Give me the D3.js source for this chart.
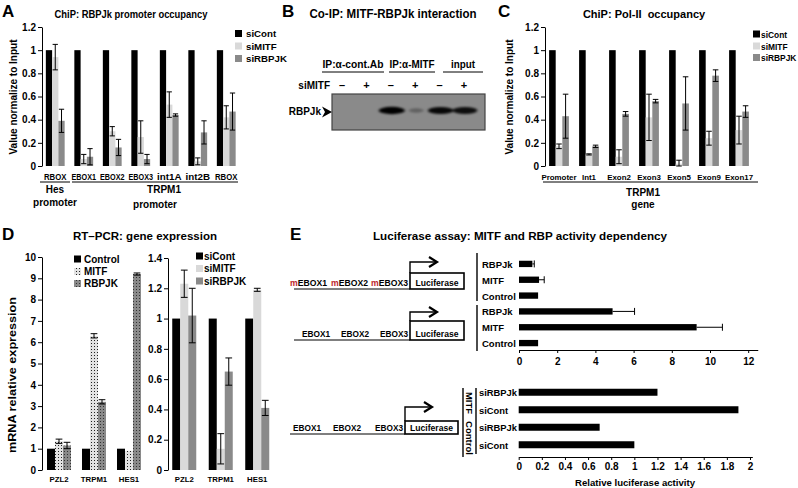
<!DOCTYPE html>
<html><head><meta charset="utf-8">
<script src="https://cdn.jsdelivr.net/npm/d3@7"></script>
<style>
body{margin:0;background:#fff;}
svg{display:block;font-family:"Liberation Sans",Arial,Helvetica,sans-serif;}
</style></head><body>
<svg id="c" width="798" height="488"></svg>
<script>
// ---------------- DATA ----------------
// Panel A: ChIP RBPJk promoter occupancy
const catsA = ["RBOX","EBOX1","EBOX2","EBOX3","int1A","int2B","RBOX"];
const seriesA = ["siCont","siMITF","siRBPJK"];
const aSiCont = [1,1,1,1,1,1,1];
const aSiMITF = [0.94,0.06,0.30,0.25,0.53,0.04,0.42];
const aSiMITFErr = [0.11,0.04,0.04,0.14,0.11,0.03,0.10];
const aSiRBPJK = [0.39,0.08,0.16,0.06,0.44,0.29,0.47];
const aSiRBPJKErr = [0.10,0.07,0.07,0.04,0.01,0.10,0.16];
const ticksA = [0,0.2,0.4,0.6,0.8,1,1.2];

// Panel B: Co-IP blot
const blotGroups = ["IP:\u03b1-cont.Ab","IP:\u03b1-MITF","input"];
const blotLanes = ["\u2013","+","\u2013","+","\u2013","+"];
const blotIntensity = [0,0,1.0,0.3,0.95,0.9];

// Panel C: ChIP Pol-II occupancy
const catsC = ["Promoter","Int1","Exon2","Exon3","Exon5","Exon9","Exon17"];
const seriesC = ["siCont","siMITF","siRBPJK"];
const cSiCont = [1,1,1,1,1,1,1];
const cSiMITF = [0.17,0.10,0.08,0.42,0.02,0.24,0.31];
const cSiMITFErr = [0.02,0.005,0.06,0.20,0.03,0.06,0.12];
const cSiRBPJK = [0.43,0.17,0.45,0.56,0.54,0.78,0.47];
const cSiRBPJKErr = [0.19,0.01,0.02,0.015,0.23,0.05,0.05];
const ticksC = [0,0.2,0.4,0.6,0.8,1,1.2];

// Panel D: RT-PCR
const catsD = ["PZL2","TRPM1","HES1"];
const seriesD1 = ["Control","MITF","RBPJK"];
const d1Control = [1,1,1];
const d1MITF = [1.35,6.3,0.9];
const d1MITFErr = [0.1,0.1,0];
const d1RBPJK = [1.15,3.2,9.2];
const d1RBPJKErr = [0.15,0.1,0.05];
const ticksD1 = [0,1,2,3,4,5,6,7,8,9,10];
const seriesD2 = ["siCont","siMITF","siRBPJK"];
const d2SiCont = [1,1,1];
const d2SiMITF = [1.23,0.14,1.19];
const d2SiMITFErr = [0.09,0.10,0.01];
const d2SiRBPJK = [1.02,0.65,0.41];
const d2SiRBPJKErr = [0.18,0.09,0.05];
const ticksD2 = [0,0.2,0.4,0.6,0.8,1,1.2,1.4];

// Panel E: Luciferase
const constructTop = ["EBOX1","EBOX2","EBOX3"];
const catsE1 = ["RBPJk","MITF","Control","RBPJk","MITF","Control"];
const e1Vals = [0.7,1.05,1.0,4.9,9.3,1.0];
const e1Err = [0.1,0.27,0,1.15,1.35,0];
const ticksE1 = [0,2,4,6,8,10,12];
const catsE2 = ["siRBPJk","siCont","siRBPJk","siCont"];
const groupsE2 = ["MITF","Control"];
const e2Vals = [1.2,1.9,0.7,1.0];
const ticksE2 = [0,0.2,0.4,0.6,0.8,1,1.2,1.4,1.6,1.8,2];

// ---------------- HELPERS ----------------
const svg = d3.select("#c");
const BLACK="#000", LIGHT="#d9d9d9", DARK="#8a8a8a";
const defs = svg.append("defs");
const pL = defs.append("pattern").attr("id","dotLight").attr("width",3).attr("height",3).attr("patternUnits","userSpaceOnUse");
pL.append("rect").attr("width",3).attr("height",3).attr("fill","#e2e2e2");
pL.append("rect").attr("x",1).attr("y",1).attr("width",1).attr("height",1).attr("fill","#222");
const pD = defs.append("pattern").attr("id","dotDark").attr("width",3).attr("height",3).attr("patternUnits","userSpaceOnUse");
pD.append("rect").attr("width",3).attr("height",3).attr("fill","#8a8a8a");
pD.append("rect").attr("x",1).attr("y",1).attr("width",1).attr("height",1).attr("fill","#333");
const blur = defs.append("filter").attr("id","blur").attr("x","-50%").attr("y","-150%").attr("width","200%").attr("height","400%");
blur.append("feGaussianBlur").attr("stdDeviation","1.6 1.1");

function txt(g,x,y,s,o={}){
  const t=g.append("text").attr("x",x).attr("y",y).text(s)
    .attr("font-size",o.size||10).attr("font-weight",o.weight||"bold")
    .attr("text-anchor",o.anchor||"start").attr("fill",o.fill||"#000");
  if(o.w) t.attr("textLength",o.w).attr("lengthAdjust","spacingAndGlyphs");
  if(o.rotate!==undefined) t.attr("transform",`rotate(${o.rotate},${x},${y})`);
  return t;
}
function line(g,x1,y1,x2,y2,w=1,c="#000"){
  return g.append("line").attr("x1",x1).attr("y1",y1).attr("x2",x2).attr("y2",y2).attr("stroke",c).attr("stroke-width",w);
}
function yAxis(g,x,y,ticks){
  const a=g.append("g").attr("transform",`translate(${x},0)`)
    .call(d3.axisLeft(y).tickValues(ticks).tickSize(4).tickSizeOuter(0).tickPadding(2).tickFormat(d=>String(d)));
  a.attr("font-family",null).attr("font-size",null);
  a.selectAll("text").attr("font-size",10).attr("font-weight","bold");
  return a;
}
function groupedBars(g,cfg){
  const x0=d3.scaleBand().domain(d3.range(cfg.n)).range(cfg.xRange).paddingInner(cfg.pi).paddingOuter(cfg.pi/2);
  const x1=d3.scaleBand().domain(d3.range(cfg.series.length)).range([0,x0.bandwidth()]);
  cfg.series.forEach((s,si)=>{
    g.append("g").selectAll("rect").data(s.vals).join("rect")
      .attr("x",(d,i)=>x0(i)+x1(si)).attr("width",x1.bandwidth())
      .attr("y",d=>cfg.y(d)).attr("height",d=>cfg.y(0)-cfg.y(d)).attr("fill",s.fill);
  });
  cfg.series.forEach((s,si)=>{
    if(!s.errs) return;
    const cw=x1.bandwidth()*0.42;
    const eg=g.append("g").attr("stroke","#000").attr("stroke-width",1);
    const data=s.vals.map((v,i)=>({i,lo:Math.max(0,v-s.errs[i]),hi:v+s.errs[i],e:s.errs[i]})).filter(d=>d.e>0);
    const cx=d=>x0(d.i)+x1(si)+x1.bandwidth()/2;
    eg.selectAll(".v").data(data).join("line").attr("x1",cx).attr("x2",cx).attr("y1",d=>cfg.y(d.lo)).attr("y2",d=>cfg.y(d.hi));
    eg.selectAll(".t").data(data).join("line").attr("x1",d=>cx(d)-cw).attr("x2",d=>cx(d)+cw).attr("y1",d=>cfg.y(d.hi)).attr("y2",d=>cfg.y(d.hi));
    eg.selectAll(".b").data(data).join("line").attr("x1",d=>cx(d)-cw).attr("x2",d=>cx(d)+cw).attr("y1",d=>cfg.y(d.lo)).attr("y2",d=>cfg.y(d.lo));
  });
  return x0;
}
function legend(g,x,ys,names,fills,o={}){
  names.forEach((n,i)=>{
    g.append("rect").attr("x",x).attr("y",ys[i]-3.5).attr("width",o.sq||7).attr("height",o.sq||7).attr("fill",fills[i]);
    txt(g,x+(o.gap||11),ys[i]+3.5,n,{size:o.size||10,w:o.ws?o.ws[i]:undefined});
  });
}

// ---------------- PANEL A ----------------
const gA=svg.append("g");
txt(gA,2,17,"A",{size:17});
txt(gA,131,18,"ChiP: RBPJk promoter occupancy",{size:11,anchor:"middle",w:153});
const yA=d3.scaleLinear().domain([0,1.2]).range([166,27]);
yAxis(gA,42,yA,ticksA);
txt(gA,16.5,97,"Value normalize to Input",{size:10,anchor:"middle",rotate:-90});
const xA=groupedBars(gA,{n:catsA.length,xRange:[41,240.5],pi:0.34,y:yA,series:[
  {vals:aSiCont,fill:BLACK},{vals:aSiMITF,errs:aSiMITFErr,fill:LIGHT},{vals:aSiRBPJK,errs:aSiRBPJKErr,fill:DARK}]});
catsA.forEach((c,i)=>txt(gA,xA(i)+xA.bandwidth()/2,179.5,c,{size:8.6,anchor:"middle",w:c.length===4?22.5:24.5}));
line(gA,40,182,70,182); line(gA,72,182,238,182);
txt(gA,55,193,"Hes",{size:10,anchor:"middle"});
txt(gA,55,206,"promoter",{size:10,anchor:"middle"});
txt(gA,164,193,"TRPM1",{size:10,anchor:"middle"});
txt(gA,155,208,"promoter",{size:10,anchor:"middle"});
legend(gA,235,[33.5,46,58.5],seriesA,[BLACK,LIGHT,DARK],{size:9.7});

// ---------------- PANEL B ----------------
const gB=svg.append("g");
txt(gB,282,17,"B",{size:17});
txt(gB,393,18,"Co-IP: MITF-RBPJk interaction",{size:12.5,anchor:"middle",w:167});
const xL=d3.scalePoint().domain(d3.range(blotLanes.length)).range([342,464]);
const grpX=[[322,384],[389,435],[443,483]];
blotGroups.forEach((gname,i)=>{
  txt(gB,(grpX[i][0]+grpX[i][1])/2,68,gname,{size:10,anchor:"middle",w:grpX[i][1]-grpX[i][0]-(i==2?16:1)});
  line(gB,grpX[i][0],72,grpX[i][1],72);
});
txt(gB,330,89,"siMITF",{size:10,anchor:"end"});
blotLanes.forEach((s,i)=>txt(gB,xL(i),89,s,{size:11,anchor:"middle"}));
gB.append("rect").attr("x",332).attr("y",94).attr("width",153).attr("height",36).attr("fill","#8a8a8a").attr("stroke","#444").attr("stroke-width",1.2);
const bw=d3.scaleLinear().domain([0,1]).range([10,26]);
gB.append("g").attr("filter","url(#blur)").selectAll("ellipse").data(blotIntensity).join("ellipse")
  .attr("cx",(d,i)=>xL(i)+1).attr("cy",110.5).attr("rx",d=>bw(d)/2).attr("ry",d=>1.5+2.2*d)
  .attr("fill","#050505").attr("opacity",d=>d);
txt(gB,321,115,"RBPJk",{size:10,anchor:"end"});
gB.append("path").attr("d","M322,106.5 L332,112 L322,117.5 L325,112 Z").attr("fill","#000");

// ---------------- PANEL C ----------------
const gC=svg.append("g");
txt(gC,498,17,"C",{size:17});
txt(gC,644,18,"ChiP: Pol-II  occupancy",{size:11,anchor:"middle"}).style("white-space","pre");
const yC=d3.scaleLinear().domain([0,1.2]).range([166,27]);
yAxis(gC,545,yC,ticksC);
txt(gC,513,97,"Value normalize to Input",{size:10,anchor:"middle",rotate:-90});
const xC=groupedBars(gC,{n:catsC.length,xRange:[544,754],pi:0.34,y:yC,series:[
  {vals:cSiCont,fill:BLACK},{vals:cSiMITF,errs:cSiMITFErr,fill:LIGHT},{vals:cSiRBPJK,errs:cSiRBPJKErr,fill:DARK}]});
catsC.forEach((c,i)=>txt(gC,xC(i)+xC.bandwidth()/2,179.5,c,{size:7.9,anchor:"middle"}));
line(gC,543,182,758,182);
txt(gC,643,196,"TRPM1",{size:10,anchor:"middle"});
txt(gC,643,208,"gene",{size:10,anchor:"middle"});
legend(gC,753,[34,46,57.5],seriesC,[BLACK,LIGHT,DARK],{size:8.4,gap:8});

// ---------------- PANEL D ----------------
const gD=svg.append("g");
txt(gD,2,240,"D",{size:17});
txt(gD,145,240,"RT\u2013PCR: gene expression",{size:11.8,anchor:"middle",w:144});
const yD1=d3.scaleLinear().domain([0,10]).range([470,257]);
yAxis(gD,42,yD1,ticksD1);
txt(gD,16,375,"mRNA relative expression",{size:10.5,anchor:"middle",rotate:-90,w:156});
const xD1=groupedBars(gD,{n:catsD.length,xRange:[41.5,146.5],pi:0.314,y:yD1,series:[
  {vals:d1Control,fill:BLACK},{vals:d1MITF,errs:d1MITFErr,fill:"url(#dotLight)"},{vals:d1RBPJK,errs:d1RBPJKErr,fill:"url(#dotDark)"}]});
catsD.forEach((c,i)=>txt(gD,xD1(i)+xD1.bandwidth()/2,482,c,{size:7.8,anchor:"middle"}));
legend(gD,74,[259,271.5,283.5],seriesD1,[BLACK,"url(#dotLight)","url(#dotDark)"],{gap:10});

const yD2=d3.scaleLinear().domain([0,1.4]).range([470,258]);
yAxis(gD,168,yD2,ticksD2);
const xD2=groupedBars(gD,{n:catsD.length,xRange:[166,275.5],pi:0.342,y:yD2,series:[
  {vals:d2SiCont,fill:BLACK},{vals:d2SiMITF,errs:d2SiMITFErr,fill:LIGHT},{vals:d2SiRBPJK,errs:d2SiRBPJKErr,fill:DARK}]});
catsD.forEach((c,i)=>txt(gD,xD2(i)+xD2.bandwidth()/2,482,c,{size:7.8,anchor:"middle"}));
legend(gD,196,[256,268.5,281],seriesD2,[BLACK,LIGHT,DARK],{gap:8});

// ---------------- PANEL E ----------------
const gE=svg.append("g");
txt(gE,290,240,"E",{size:17});
txt(gE,520,240,"Luciferase assay: MITF and RBP activity dependency",{size:11.6,anchor:"middle",w:294});

function construct(g,o){
  line(g,o.lineX0,o.base,o.boxX0,o.base,1.2);
  g.append("rect").attr("x",o.boxX0).attr("y",o.boxTop).attr("width",o.boxX1-o.boxX0).attr("height",o.base-o.boxTop)
    .attr("fill","none").attr("stroke","#000").attr("stroke-width",1.6);
  txt(g,(o.boxX0+o.boxX1)/2,o.textY,"Luciferase",{size:9,anchor:"middle",w:43});
  constructTop.forEach((s,i)=>{
    const t=txt(g,o.xs[i],o.textY,"",{size:o.mut?9.2:9,w:o.mut?37:28});
    if(o.mut) t.append("tspan").attr("fill","#c0282d").text("m");
    t.append("tspan").text(s);
  });
  g.append("path").attr("d",`M${o.boxX0},${o.boxTop} V${o.arrY} H${o.arrX-2}`).attr("fill","none").attr("stroke","#000").attr("stroke-width",1.4);
  g.append("path").attr("d",`M${o.arrX-8},${o.arrY-5} L${o.arrX},${o.arrY} L${o.arrX-8},${o.arrY+5}`).attr("fill","none").attr("stroke","#000").attr("stroke-width",2.2);
}
construct(gE,{mut:true,xs:[290,331,371],textY:285.5,lineX0:294,base:289,boxX0:410,boxX1:464,boxTop:273,arrY:262,arrX:437});
construct(gE,{mut:false,xs:[302,341,380],textY:336.5,lineX0:294,base:340,boxX0:410,boxX1:464,boxTop:321,arrY:312,arrX:437});
construct(gE,{mut:false,xs:[293,333,375],textY:431,lineX0:290,base:434,boxX0:405,boxX1:458,boxTop:421,arrY:407,arrX:432});

// top chart
const xE1=d3.scaleLinear().domain([0,12.5]).range([519,757.75]);
const yE1=d3.scaleBand().domain(d3.range(catsE1.length)).range([256,351]).paddingInner(0.6).paddingOuter(0.3);
gE.append("g").selectAll("rect").data(e1Vals).join("rect")
  .attr("x",xE1(0)).attr("y",(d,i)=>yE1(i)).attr("height",yE1.bandwidth()).attr("width",d=>xE1(d)-xE1(0)).attr("fill","#000");
e1Vals.forEach((v,i)=>{ if(!e1Err[i]) return; const cy=yE1(i)+yE1.bandwidth()/2;
  line(gE,xE1(v),cy,xE1(v+e1Err[i]),cy,1); line(gE,xE1(v+e1Err[i]),cy-3.5,xE1(v+e1Err[i]),cy+3.5,1);});
catsE1.forEach((c,i)=>txt(gE,482,yE1(i)+yE1.bandwidth()/2+4,c,{size:9.5}));
line(gE,477,253,477,301,1.4); line(gE,477,305,477,351,1.4);
const axE1=gE.append("g").attr("transform","translate(0,350)").call(d3.axisBottom(xE1).tickValues(ticksE1).tickSize(3).tickSizeOuter(0).tickPadding(5).tickFormat(d=>String(d)));
axE1.attr("font-family",null).attr("font-size",null);
axE1.selectAll("text").attr("font-size",10).attr("font-weight","bold");
axE1.select(".domain").attr("stroke-width",1.2);

// bottom chart
const xE2=d3.scaleLinear().domain([0,2.02]).range([518.7,752.3]);
const yE2=d3.scaleBand().domain(d3.range(catsE2.length)).range([383.5,453.5]).paddingInner(0.6).paddingOuter(0.3);
gE.append("g").selectAll("rect").data(e2Vals).join("rect")
  .attr("x",xE2(0)).attr("y",(d,i)=>yE2(i)).attr("height",yE2.bandwidth()).attr("width",d=>xE2(d)-xE2(0)).attr("fill","#000");
catsE2.forEach((c,i)=>txt(gE,479,yE2(i)+yE2.bandwidth()/2+4,c,{size:9.4}));
line(gE,476,388,476,454,1.4);
line(gE,463,388,463,457,1.4);
txt(gE,466,403,groupsE2[0],{size:9.5,anchor:"middle",rotate:90});
txt(gE,466,438,groupsE2[1],{size:9.5,anchor:"middle",rotate:90});
const axE2=gE.append("g").attr("transform","translate(0,457)").call(d3.axisBottom(xE2).tickValues(ticksE2).tickSize(3).tickSizeOuter(0).tickPadding(3).tickFormat(d=>String(d)));
axE2.attr("font-family",null).attr("font-size",null);
axE2.selectAll("text").attr("font-size",10).attr("font-weight","bold");
axE2.select(".domain").attr("stroke-width",1.2);
txt(gE,635,486,"Relative luciferase activity",{size:9.6,anchor:"middle"});
</script></body></html>
